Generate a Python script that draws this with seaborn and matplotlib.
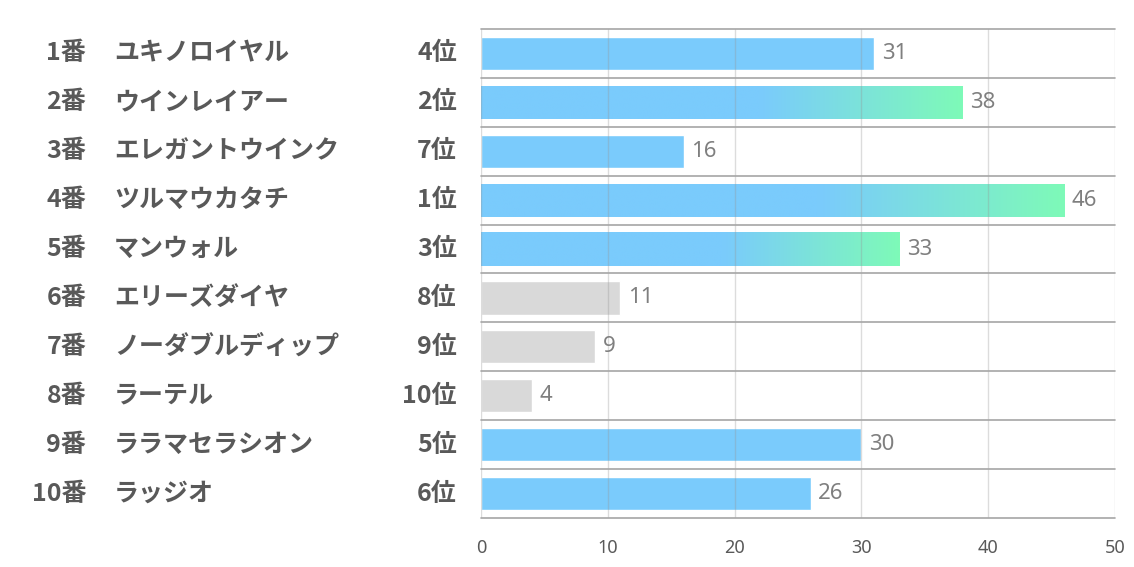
import numpy as np
import pandas as pd
import matplotlib
matplotlib.use("Agg")
import matplotlib.pyplot as plt
import matplotlib.transforms as mtransforms
from matplotlib.colors import LinearSegmentedColormap
import seaborn as sns

# ---- data ----
numbers = ["1番", "2番", "3番", "4番", "5番", "6番", "7番", "8番", "9番", "10番"]
names = ["ユキノロイヤル", "ウインレイアー", "エレガントウインク", "ツルマウカタチ", "マンウォル",
         "エリーズダイヤ", "ノーダブルディップ", "ラーテル", "ララマセラシオン", "ラッジオ"]
ranks = [4, 2, 7, 1, 3, 8, 9, 10, 5, 6]
values = [31, 38, 16, 46, 33, 11, 9, 4, 30, 26]
xticks = [0, 10, 20, 30, 40, 50]

BLUE = "#7ACBFC"
GREEN = "#7EFAB8"
GREY = "#D9D9D9"
TEXT = "#595959"
VAL = "#7F7F7F"

sns.set_theme(style="white")
plt.rcParams["font.family"] = ["Noto Sans CJK JP", "DejaVu Sans"]

df = pd.DataFrame({"label": numbers, "value": values, "rank": ranks})
df["group"] = ["grey" if r >= 8 else ("top" if r <= 3 else "blue") for r in ranks]
palette = {"grey": GREY, "top": BLUE, "blue": BLUE}

fig = plt.figure(figsize=(11.34, 5.67), dpi=100)
ax = fig.add_axes([481 / 1134, 1 - 518 / 567, 634 / 1134, 489 / 567])

sns.barplot(data=df, y="label", x="value", hue="group", palette=palette, dodge=False,
            orient="h", width=0.68, legend=False, ax=ax, saturation=1)

ax.set_xlim(0, 50)
ax.set_ylim(len(values) - 0.5, -0.5)
ax.set_xticks(xticks)
ax.set_xticklabels([str(t) for t in xticks], color=TEXT, fontsize=13, family=["Noto Sans", "DejaVu Sans"])
ax.tick_params(axis="x", length=0, pad=15)
ax.set_yticks([])
ax.set_xlabel("")
ax.set_ylabel("")
for s in ["left", "right", "top", "bottom"]:
    ax.spines[s].set_visible(False)

# gradient for top-3 bars
cmap = LinearSegmentedColormap.from_list("g", [(0, BLUE), (0.58, BLUE), (1, GREEN)])
grad = np.linspace(0, 1, 256).reshape(1, -1)
bars = [p for p in ax.patches if p.get_width() > 0]
bars_by_row = {}
for p in bars:
    yc = p.get_y() + p.get_height() / 2
    bars_by_row[int(round(yc))] = p
for i, r in enumerate(ranks):
    p = bars_by_row[i]
    if r <= 3:
        x0, y0, w, h = p.get_x(), p.get_y(), p.get_width(), p.get_height()
        im = ax.imshow(grad, cmap=cmap, aspect="auto", extent=(x0, x0 + w, y0 + h, y0),
                       zorder=p.get_zorder() + 0.1, interpolation="bilinear")
        im.set_clip_path(p)
ax.set_xlim(0, 50)
ax.set_ylim(len(values) - 0.5, -0.5)

# grid lines
for t in xticks:
    ax.axvline(t, color=(0.59, 0.59, 0.59, 0.33), lw=1, zorder=5)
for k in range(len(values) + 1):
    ax.axhline(k - 0.5, color="#A6A6A6", lw=1.2, zorder=6, clip_on=False)

# value labels
for i, v in enumerate(values):
    ax.text(v + 0.6, i, str(v), va="center", ha="left", color=VAL, fontsize=16,
            family=["Noto Sans", "DejaVu Sans"], zorder=7)

# row labels
trans = mtransforms.blended_transform_factory(fig.transFigure, ax.transData)
for i in range(len(values)):
    ax.text(86 / 1134, i, numbers[i], transform=trans, ha="right", va="center",
            fontsize=18, fontweight="bold", color=TEXT)
    ax.text(114 / 1134, i, names[i], transform=trans, ha="left", va="center",
            fontsize=18, fontweight="bold", color=TEXT)
    ax.text(457 / 1134, i, f"{ranks[i]}位", transform=trans, ha="right", va="center",
            fontsize=18, fontweight="bold", color=TEXT)

fig.savefig("out.png", dpi=100, facecolor="white")
